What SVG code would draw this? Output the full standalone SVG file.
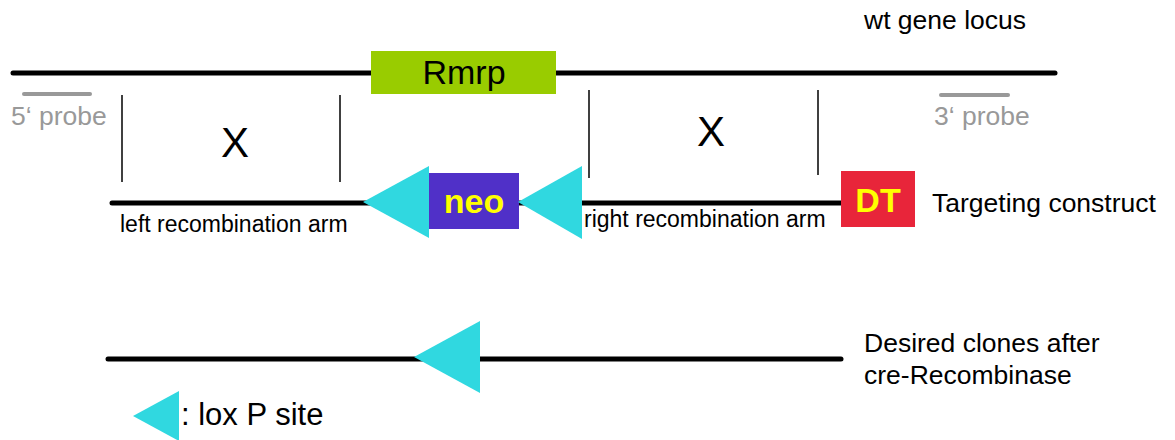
<svg xmlns="http://www.w3.org/2000/svg" width="1175" height="440" viewBox="0 0 1175 440">
<style>
.dna{stroke:#000;stroke-width:5;stroke-linecap:round;fill:none}
.tick{stroke:#000;stroke-width:1.5}
.probe{stroke:#999;stroke-width:4;stroke-linecap:round}
.lox{fill:#30d8e0}
text{font-family:"Liberation Sans",Arial,sans-serif;fill:#000}
.gray{fill:#999;font-size:26.5px}
.lbl{font-size:26.5px}
.arm{font-size:23px}
.box{font-size:34px;font-weight:bold;fill:#ffff00;text-anchor:middle}
.x{font-size:42px;text-anchor:middle}
</style>
<rect width="1175" height="440" fill="#fff"/>
<g id="connectors">
<line class="dna" x1="13" y1="73" x2="1055" y2="73"/>
<line class="dna" x1="112" y1="203" x2="842" y2="203"/>
<line class="dna" x1="108" y1="359" x2="841" y2="359"/>
<line class="tick" x1="122" y1="95" x2="122" y2="182"/>
<line class="tick" x1="340" y1="95" x2="340" y2="182"/>
<line class="tick" x1="589" y1="90" x2="589" y2="178"/>
<line class="tick" x1="818" y1="90" x2="818" y2="175"/>
</g>
<g id="wt-label"><text class="lbl" x="864" y="29">wt gene locus</text></g>
<g id="probe5"><line class="probe" x1="24" y1="94" x2="90" y2="94"/><text class="gray" x="11" y="125">5‘ probe</text></g>
<g id="probe3"><line class="probe" x1="941" y1="95" x2="1008" y2="95"/><text class="gray" x="934" y="125">3‘ probe</text></g>
<g id="rmrp"><rect x="371" y="51" width="185" height="43" fill="#99cc00"/><text x="464" y="84" font-size="34" text-anchor="middle">Rmrp</text></g>
<g id="x1"><text class="x" x="235" y="157">X</text></g>
<g id="x2"><text class="x" x="711" y="146">X</text></g>
<g id="lox1"><polygon class="lox" points="363,202 429,166 429,238"/></g>
<g id="neo"><rect x="429" y="173" width="90" height="56" fill="#5030c8"/><text class="box" x="474" y="213">neo</text></g>
<g id="lox2"><polygon class="lox" points="518,202 582,166 582,239"/></g>
<g id="dt"><rect x="841" y="171" width="74" height="56" fill="#e8253a"/><text class="box" x="878" y="212">DT</text></g>
<g id="targeting"><text class="lbl" x="932" y="212">Targeting construct</text></g>
<g id="leftarm"><text class="arm" x="120" y="232">left recombination arm</text></g>
<g id="rightarm"><text class="arm" x="584" y="227">right recombination arm</text></g>
<g id="lox3"><polygon class="lox" points="414,357 480,321 480,393"/></g>
<g id="desired"><text class="lbl" x="864" y="352">Desired clones after</text><text class="lbl" x="864" y="384">cre-Recombinase</text></g>
<g id="legend"><polygon class="lox" points="133,416 179,391 179,441"/><text x="181" y="425" font-size="31">: lox P site</text></g>
</svg>
